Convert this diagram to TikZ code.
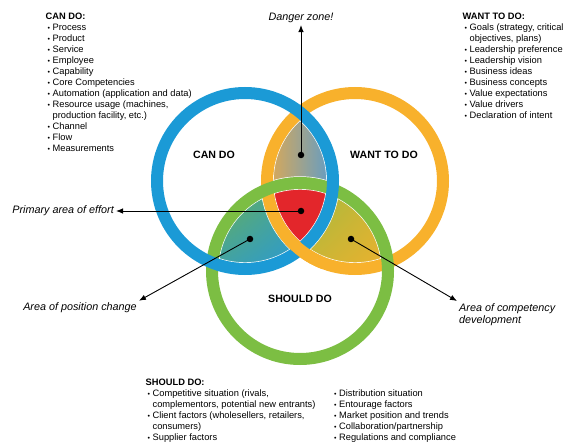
\documentclass[tikz,border=0pt]{standalone}
\usepackage{fontspec}
\setmainfont{Liberation Sans}
\usetikzlibrary{arrows.meta,shadings}
\definecolor{ringblue}{HTML}{1B9AD6}
\definecolor{ringorange}{HTML}{F8B12C}
\definecolor{ringgreen}{HTML}{7CBE43}
\definecolor{corered}{HTML}{E3262B}
\definecolor{lenstan}{HTML}{DCA955}
\definecolor{lensgrey}{HTML}{5C9CCB}
\definecolor{lensteal}{HTML}{2B9AD2}
\definecolor{lensgreen}{HTML}{6DB24A}
\definecolor{lensolive}{HTML}{9FBB3F}
\definecolor{lensyellow}{HTML}{ECB12E}
\newcommand{\bul}{\scalebox{0.75}{\textbullet}}

\begin{document}
\begin{tikzpicture}[x=1pt,y=-1pt,
	ring/.style={line width=12pt},
	rim/.style={white,line width=1.4pt},
	dot/.style={circle,fill=black,inner sep=0pt,minimum size=6.5pt},
	pointer/.style={-{Latex[length=7pt,width=5.5pt]},line width=0.9pt},
	listtext/.style={inner sep=0pt,anchor=north west,font=\fontsize{9.3}{11}\selectfont},
	callout/.style={inner sep=2pt,font=\fontsize{10.8}{12.5}\selectfont\itshape},
	circletitle/.style={font=\fontsize{10.6}{12}\selectfont\bfseries}]
	\useasboundingbox (0,0) rectangle (567,443);
	\coordinate (cb) at (245,181);
	\coordinate (co) at (355,181);
	\coordinate (cg) at (300,271);
	\begin{scope}[even odd rule]
		\clip (cb) circle (82pt);
		\clip (co) circle (82pt);
		\clip (0,0) rectangle (567,443) (cg) circle (94pt);
		\shade[left color=lenstan,right color=lensgrey] (268,115) rectangle (334,180);
		\draw[rim] (cb) circle (82pt) (co) circle (82pt) (cg) circle (94pt);
	\end{scope}
	\begin{scope}[even odd rule]
		\clip (cb) circle (82pt);
		\clip (cg) circle (82pt);
		\clip (0,0) rectangle (567,443) (co) circle (94pt);
		\shade[upper left=lensgreen,lower right=lensteal,upper right=lensteal!60!lensgreen,lower left=lensteal!70!lensgreen] (215,185) rectangle (295,270);
		\draw[rim] (cb) circle (82pt) (cg) circle (82pt) (co) circle (94pt);
	\end{scope}
	\begin{scope}[even odd rule]
		\clip (co) circle (82pt);
		\clip (cg) circle (82pt);
		\clip (0,0) rectangle (567,443) (cb) circle (94pt);
		\shade[upper left=lensolive,lower right=lensyellow,upper right=lensyellow!60!lensolive,lower left=lensyellow!60!lensolive] (305,185) rectangle (385,270);
		\draw[rim] (co) circle (82pt) (cg) circle (82pt) (cb) circle (94pt);
	\end{scope}
	\begin{scope}
		\clip (cb) circle (82pt);
		\clip (co) circle (82pt);
		\clip (cg) circle (82pt);
		\fill[corered] (260,185) rectangle (340,250);
		\draw[rim] (cb) circle (82pt) (co) circle (82pt) (cg) circle (82pt);
	\end{scope}
	\draw[ring,ringorange] (co) circle (88pt);
	\draw[ring,ringgreen] (cg) circle (88pt);
	\draw[ring,ringblue] (cb) circle (88pt);
	\begin{scope}
		\clip (278,228) rectangle (322,272);
		\draw[ring,ringorange] (co) circle (88pt);
	\end{scope}
	\node[circletitle] (cantitle) at (214,155) {CAN DO};
	\node[circletitle] (wanttitle) at (384,155) {WANT TO DO};
	\node[circletitle] (shouldtitle) at (300,299) {SHOULD DO};
	\node[dot] (dtop) at (301,155) {};
	\node[dot] (dcore) at (301,211) {};
	\node[dot] (dleft) at (250,239) {};
	\node[dot] (dright) at (351,239) {};
	\node[callout] (danger) at (301,18) {Danger zone!};
	\node[callout,anchor=east] (primary) at (116,211) {Primary area of effort};
	\node[callout] (poschange) at (80,308) {Area of position change};
	\node[callout,align=left,anchor=north west] (compdev) at (457,301) {Area of competency\\development};
	\draw[pointer] (dtop.center) -- (danger.south);
	\draw[pointer] (dcore.center) -- (primary.east);
	\draw[pointer] (dleft.center) -- (poschange.north east);
	\draw[pointer] (dright.center) -- (compdev.north west);
	\node[listtext] (canlist) at (45.5,11.5) {\begin{tabular}{@{\hspace{2pt}}l@{\hspace{2.5pt}}l@{}}
		\multicolumn{2}{@{}l}{\textbf{CAN DO:}}\\
		\bul & Process\\
		\bul & Product\\
		\bul & Service\\
		\bul & Employee\\
		\bul & Capability\\
		\bul & Core Competencies\\
		\bul & Automation (application and data)\\
		\bul & Resource usage (machines,\\
		& production facility, etc.)\\
		\bul & Channel\\
		\bul & Flow\\
		\bul & Measurements
	\end{tabular}};
	\node[listtext] (wantlist) at (462.5,11.5) {\begin{tabular}{@{\hspace{2pt}}l@{\hspace{2.5pt}}l@{}}
		\multicolumn{2}{@{}l}{\textbf{WANT TO DO:}}\\
		\bul & Goals (strategy, critical\\
		& objectives, plans)\\
		\bul & Leadership preference\\
		\bul & Leadership vision\\
		\bul & Business ideas\\
		\bul & Business concepts\\
		\bul & Value expectations\\
		\bul & Value drivers\\
		\bul & Declaration of intent
	\end{tabular}};
	\node[listtext] (shouldlist) at (145.5,378) {\begin{tabular}{@{\hspace{2pt}}l@{\hspace{2.5pt}}l@{}}
		\multicolumn{2}{@{}l}{\textbf{SHOULD DO:}}\\
		\bul & Competitive situation (rivals,\\
		& complementors, potential new entrants)\\
		\bul & Client factors (wholesellers, retailers,\\
		& consumers)\\
		\bul & Supplier factors
	\end{tabular}};
	\node[listtext] (shouldmore) at (332,389) {\begin{tabular}{@{\hspace{2pt}}l@{\hspace{2.5pt}}l@{}}
		\bul & Distribution situation\\
		\bul & Entourage factors\\
		\bul & Market position and trends\\
		\bul & Collaboration/partnership\\
		\bul & Regulations and compliance
	\end{tabular}};
\end{tikzpicture}
\end{document}
